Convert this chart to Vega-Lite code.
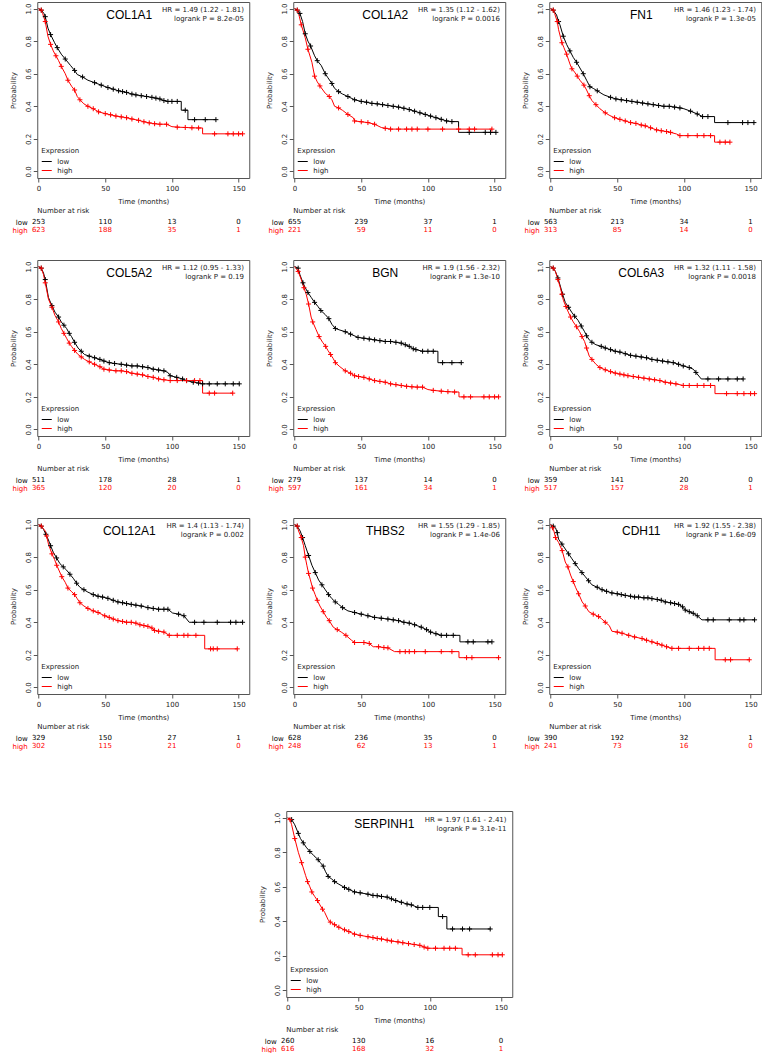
{
"$schema": "https://vega.github.io/schema/vega-lite/v6.json",
"padding": {"left": 8, "top": 1, "right": 0, "bottom": 0},
"background": "white",
"config": {
  "font": "DejaVu Sans",
  "view": {"stroke": "#555", "strokeWidth": 1},
  "axis": {"labelFont": "DejaVu Sans", "labelFontSize": 7, "titleFont": "DejaVu Sans", "titleFontSize": 7, "titleFontWeight": "normal", "grid": false, "domain": false, "tickColor": "#555", "tickSize": 4, "labelColor": "#222", "titleColor": "#222", "labelPadding": 2, "labelOverlap": false, "labelFlush": false},
  "legend": {"orient": "bottom-left", "offset": 4, "padding": 0, "symbolType": "stroke", "symbolSize": 100, "symbolStrokeWidth": 1, "labelFont": "DejaVu Sans", "titleFont": "DejaVu Sans", "labelFontSize": 7, "titleFontSize": 7, "titleFontWeight": "normal", "rowPadding": 0, "titlePadding": 2, "labelColor": "#222", "titleColor": "#222", "labelOffset": 5},
  "title": {"font": "DejaVu Sans", "fontSize": 7, "fontWeight": "normal", "anchor": "start", "frame": "group", "offset": 0, "color": "#222"}
},
"datasets": {
"info": [
{"gene":"COL1A1","hr":"HR = 1.49 (1.22 - 1.81)","lp":"logrank P = 8.2e-05"},
{"gene":"COL1A2","hr":"HR = 1.35 (1.12 - 1.62)","lp":"logrank P = 0.0016"},
{"gene":"FN1","hr":"HR = 1.46 (1.23 - 1.74)","lp":"logrank P = 1.3e-05"},
{"gene":"COL5A2","hr":"HR = 1.12 (0.95 - 1.33)","lp":"logrank P = 0.19"},
{"gene":"BGN","hr":"HR = 1.9 (1.56 - 2.32)","lp":"logrank P = 1.3e-10"},
{"gene":"COL6A3","hr":"HR = 1.32 (1.11 - 1.58)","lp":"logrank P = 0.0018"},
{"gene":"COL12A1","hr":"HR = 1.4 (1.13 - 1.74)","lp":"logrank P = 0.002"},
{"gene":"THBS2","hr":"HR = 1.55 (1.29 - 1.85)","lp":"logrank P = 1.4e-06"},
{"gene":"CDH11","hr":"HR = 1.92 (1.55 - 2.38)","lp":"logrank P = 1.6e-09"},
{"gene":"SERPINH1","hr":"HR = 1.97 (1.61 - 2.41)","lp":"logrank P = 3.1e-11"}
],
"risk": [
{"gene":"COL1A1","grp":"low","t":0,"n":253},{"gene":"COL1A1","grp":"low","t":50,"n":110},{"gene":"COL1A1","grp":"low","t":100,"n":13},{"gene":"COL1A1","grp":"low","t":150,"n":0},
{"gene":"COL1A1","grp":"high","t":0,"n":623},{"gene":"COL1A1","grp":"high","t":50,"n":188},{"gene":"COL1A1","grp":"high","t":100,"n":35},{"gene":"COL1A1","grp":"high","t":150,"n":1},
{"gene":"COL1A2","grp":"low","t":0,"n":655},{"gene":"COL1A2","grp":"low","t":50,"n":239},{"gene":"COL1A2","grp":"low","t":100,"n":37},{"gene":"COL1A2","grp":"low","t":150,"n":1},
{"gene":"COL1A2","grp":"high","t":0,"n":221},{"gene":"COL1A2","grp":"high","t":50,"n":59},{"gene":"COL1A2","grp":"high","t":100,"n":11},{"gene":"COL1A2","grp":"high","t":150,"n":0},
{"gene":"FN1","grp":"low","t":0,"n":563},{"gene":"FN1","grp":"low","t":50,"n":213},{"gene":"FN1","grp":"low","t":100,"n":34},{"gene":"FN1","grp":"low","t":150,"n":1},
{"gene":"FN1","grp":"high","t":0,"n":313},{"gene":"FN1","grp":"high","t":50,"n":85},{"gene":"FN1","grp":"high","t":100,"n":14},{"gene":"FN1","grp":"high","t":150,"n":0},
{"gene":"COL5A2","grp":"low","t":0,"n":511},{"gene":"COL5A2","grp":"low","t":50,"n":178},{"gene":"COL5A2","grp":"low","t":100,"n":28},{"gene":"COL5A2","grp":"low","t":150,"n":1},
{"gene":"COL5A2","grp":"high","t":0,"n":365},{"gene":"COL5A2","grp":"high","t":50,"n":120},{"gene":"COL5A2","grp":"high","t":100,"n":20},{"gene":"COL5A2","grp":"high","t":150,"n":0},
{"gene":"BGN","grp":"low","t":0,"n":279},{"gene":"BGN","grp":"low","t":50,"n":137},{"gene":"BGN","grp":"low","t":100,"n":14},{"gene":"BGN","grp":"low","t":150,"n":0},
{"gene":"BGN","grp":"high","t":0,"n":597},{"gene":"BGN","grp":"high","t":50,"n":161},{"gene":"BGN","grp":"high","t":100,"n":34},{"gene":"BGN","grp":"high","t":150,"n":1},
{"gene":"COL6A3","grp":"low","t":0,"n":359},{"gene":"COL6A3","grp":"low","t":50,"n":141},{"gene":"COL6A3","grp":"low","t":100,"n":20},{"gene":"COL6A3","grp":"low","t":150,"n":0},
{"gene":"COL6A3","grp":"high","t":0,"n":517},{"gene":"COL6A3","grp":"high","t":50,"n":157},{"gene":"COL6A3","grp":"high","t":100,"n":28},{"gene":"COL6A3","grp":"high","t":150,"n":1},
{"gene":"COL12A1","grp":"low","t":0,"n":329},{"gene":"COL12A1","grp":"low","t":50,"n":150},{"gene":"COL12A1","grp":"low","t":100,"n":27},{"gene":"COL12A1","grp":"low","t":150,"n":1},
{"gene":"COL12A1","grp":"high","t":0,"n":302},{"gene":"COL12A1","grp":"high","t":50,"n":115},{"gene":"COL12A1","grp":"high","t":100,"n":21},{"gene":"COL12A1","grp":"high","t":150,"n":0},
{"gene":"THBS2","grp":"low","t":0,"n":628},{"gene":"THBS2","grp":"low","t":50,"n":236},{"gene":"THBS2","grp":"low","t":100,"n":35},{"gene":"THBS2","grp":"low","t":150,"n":0},
{"gene":"THBS2","grp":"high","t":0,"n":248},{"gene":"THBS2","grp":"high","t":50,"n":62},{"gene":"THBS2","grp":"high","t":100,"n":13},{"gene":"THBS2","grp":"high","t":150,"n":1},
{"gene":"CDH11","grp":"low","t":0,"n":390},{"gene":"CDH11","grp":"low","t":50,"n":192},{"gene":"CDH11","grp":"low","t":100,"n":32},{"gene":"CDH11","grp":"low","t":150,"n":1},
{"gene":"CDH11","grp":"high","t":0,"n":241},{"gene":"CDH11","grp":"high","t":50,"n":73},{"gene":"CDH11","grp":"high","t":100,"n":16},{"gene":"CDH11","grp":"high","t":150,"n":0},
{"gene":"SERPINH1","grp":"low","t":0,"n":260},{"gene":"SERPINH1","grp":"low","t":50,"n":130},{"gene":"SERPINH1","grp":"low","t":100,"n":16},{"gene":"SERPINH1","grp":"low","t":150,"n":0},
{"gene":"SERPINH1","grp":"high","t":0,"n":616},{"gene":"SERPINH1","grp":"high","t":50,"n":168},{"gene":"SERPINH1","grp":"high","t":100,"n":32},{"gene":"SERPINH1","grp":"high","t":150,"n":1}
],
"COL1A1": [
{"grp":"low","t":0,"p":1,"cens":0},{"grp":"low","t":2,"p":0.99,"cens":1},{"grp":"low","t":4,"p":0.97,"cens":0},{"grp":"low","t":5,"p":0.95,"cens":1},{"grp":"low","t":7,"p":0.88,"cens":0},{"grp":"low","t":9,"p":0.84,"cens":1},{"grp":"low","t":12,"p":0.79,"cens":0},{"grp":"low","t":14,"p":0.76,"cens":1},{"grp":"low","t":17,"p":0.72,"cens":0},{"grp":"low","t":20,"p":0.69,"cens":1},{"grp":"low","t":24,"p":0.65,"cens":0},{"grp":"low","t":27,"p":0.62,"cens":1},{"grp":"low","t":29,"p":0.595,"cens":0},{"grp":"low","t":33,"p":0.58,"cens":1},{"grp":"low","t":37,"p":0.56,"cens":0},{"grp":"low","t":42,"p":0.545,"cens":1},{"grp":"low","t":47,"p":0.53,"cens":1},{"grp":"low","t":52,"p":0.515,"cens":1},{"grp":"low","t":56,"p":0.505,"cens":1},{"grp":"low","t":60,"p":0.495,"cens":1},{"grp":"low","t":63,"p":0.49,"cens":1},{"grp":"low","t":66,"p":0.485,"cens":1},{"grp":"low","t":70,"p":0.475,"cens":1},{"grp":"low","t":73,"p":0.47,"cens":1},{"grp":"low","t":77,"p":0.465,"cens":1},{"grp":"low","t":81,"p":0.46,"cens":1},{"grp":"low","t":85,"p":0.455,"cens":1},{"grp":"low","t":88,"p":0.45,"cens":1},{"grp":"low","t":91,"p":0.445,"cens":1},{"grp":"low","t":94,"p":0.435,"cens":1},{"grp":"low","t":97,"p":0.43,"cens":1},{"grp":"low","t":100,"p":0.43,"cens":1},{"grp":"low","t":104,"p":0.43,"cens":1},{"grp":"low","t":107,"p":0.43,"cens":0},{"grp":"low","t":107,"p":0.376,"cens":0},{"grp":"low","t":110,"p":0.376,"cens":1},{"grp":"low","t":112,"p":0.376,"cens":0},{"grp":"low","t":112,"p":0.318,"cens":0},{"grp":"low","t":117,"p":0.318,"cens":1},{"grp":"low","t":125,"p":0.318,"cens":1},{"grp":"low","t":133,"p":0.318,"cens":1},
{"grp":"high","t":0,"p":1,"cens":0},{"grp":"high","t":2,"p":0.99,"cens":1},{"grp":"high","t":3,"p":0.97,"cens":0},{"grp":"high","t":5,"p":0.92,"cens":1},{"grp":"high","t":7,"p":0.83,"cens":0},{"grp":"high","t":9,"p":0.78,"cens":1},{"grp":"high","t":11,"p":0.74,"cens":0},{"grp":"high","t":13,"p":0.71,"cens":1},{"grp":"high","t":15,"p":0.68,"cens":0},{"grp":"high","t":17,"p":0.645,"cens":1},{"grp":"high","t":20,"p":0.6,"cens":0},{"grp":"high","t":22,"p":0.56,"cens":1},{"grp":"high","t":25,"p":0.52,"cens":0},{"grp":"high","t":27,"p":0.5,"cens":1},{"grp":"high","t":29,"p":0.46,"cens":0},{"grp":"high","t":31,"p":0.44,"cens":1},{"grp":"high","t":34,"p":0.415,"cens":0},{"grp":"high","t":37,"p":0.4,"cens":1},{"grp":"high","t":41,"p":0.385,"cens":1},{"grp":"high","t":45,"p":0.366,"cens":1},{"grp":"high","t":50,"p":0.355,"cens":1},{"grp":"high","t":54,"p":0.348,"cens":1},{"grp":"high","t":58,"p":0.34,"cens":1},{"grp":"high","t":62,"p":0.335,"cens":1},{"grp":"high","t":66,"p":0.33,"cens":1},{"grp":"high","t":70,"p":0.322,"cens":1},{"grp":"high","t":75,"p":0.314,"cens":1},{"grp":"high","t":79,"p":0.305,"cens":1},{"grp":"high","t":83,"p":0.298,"cens":1},{"grp":"high","t":87,"p":0.293,"cens":1},{"grp":"high","t":91,"p":0.29,"cens":1},{"grp":"high","t":96,"p":0.29,"cens":1},{"grp":"high","t":100,"p":0.275,"cens":0},{"grp":"high","t":104,"p":0.272,"cens":1},{"grp":"high","t":110,"p":0.27,"cens":1},{"grp":"high","t":115,"p":0.268,"cens":1},{"grp":"high","t":120,"p":0.267,"cens":1},{"grp":"high","t":123,"p":0.267,"cens":0},{"grp":"high","t":123,"p":0.231,"cens":0},{"grp":"high","t":132,"p":0.231,"cens":1},{"grp":"high","t":142,"p":0.231,"cens":1},{"grp":"high","t":146,"p":0.231,"cens":1},{"grp":"high","t":150,"p":0.231,"cens":1},{"grp":"high","t":153,"p":0.231,"cens":1}
],
"COL1A2": [
{"grp":"low","t":0,"p":1,"cens":0},{"grp":"low","t":2,"p":0.99,"cens":1},{"grp":"low","t":4,"p":0.97,"cens":1},{"grp":"low","t":6,"p":0.92,"cens":0},{"grp":"low","t":8,"p":0.845,"cens":1},{"grp":"low","t":10,"p":0.8,"cens":0},{"grp":"low","t":12,"p":0.77,"cens":1},{"grp":"low","t":15,"p":0.71,"cens":0},{"grp":"low","t":17,"p":0.68,"cens":1},{"grp":"low","t":20,"p":0.65,"cens":0},{"grp":"low","t":23,"p":0.6,"cens":1},{"grp":"low","t":25,"p":0.575,"cens":0},{"grp":"low","t":28,"p":0.54,"cens":1},{"grp":"low","t":30,"p":0.51,"cens":0},{"grp":"low","t":33,"p":0.49,"cens":1},{"grp":"low","t":36,"p":0.475,"cens":0},{"grp":"low","t":40,"p":0.46,"cens":1},{"grp":"low","t":45,"p":0.44,"cens":1},{"grp":"low","t":50,"p":0.43,"cens":1},{"grp":"low","t":54,"p":0.425,"cens":1},{"grp":"low","t":58,"p":0.418,"cens":1},{"grp":"low","t":62,"p":0.415,"cens":1},{"grp":"low","t":66,"p":0.41,"cens":1},{"grp":"low","t":70,"p":0.405,"cens":1},{"grp":"low","t":74,"p":0.4,"cens":1},{"grp":"low","t":78,"p":0.395,"cens":1},{"grp":"low","t":82,"p":0.388,"cens":1},{"grp":"low","t":86,"p":0.38,"cens":1},{"grp":"low","t":90,"p":0.37,"cens":1},{"grp":"low","t":94,"p":0.36,"cens":1},{"grp":"low","t":98,"p":0.35,"cens":1},{"grp":"low","t":102,"p":0.34,"cens":1},{"grp":"low","t":106,"p":0.33,"cens":1},{"grp":"low","t":110,"p":0.32,"cens":1},{"grp":"low","t":114,"p":0.31,"cens":1},{"grp":"low","t":118,"p":0.306,"cens":1},{"grp":"low","t":123,"p":0.306,"cens":0},{"grp":"low","t":123,"p":0.24,"cens":0},{"grp":"low","t":131,"p":0.24,"cens":1},{"grp":"low","t":143,"p":0.24,"cens":1},{"grp":"low","t":147,"p":0.24,"cens":1},{"grp":"low","t":151,"p":0.24,"cens":1},
{"grp":"high","t":0,"p":1,"cens":0},{"grp":"high","t":2,"p":0.99,"cens":1},{"grp":"high","t":3,"p":0.97,"cens":0},{"grp":"high","t":5,"p":0.9,"cens":1},{"grp":"high","t":8,"p":0.82,"cens":0},{"grp":"high","t":10,"p":0.75,"cens":1},{"grp":"high","t":13,"p":0.67,"cens":0},{"grp":"high","t":15,"p":0.585,"cens":1},{"grp":"high","t":17,"p":0.55,"cens":0},{"grp":"high","t":19,"p":0.525,"cens":1},{"grp":"high","t":23,"p":0.48,"cens":0},{"grp":"high","t":26,"p":0.46,"cens":1},{"grp":"high","t":28,"p":0.44,"cens":0},{"grp":"high","t":30,"p":0.4,"cens":0},{"grp":"high","t":33,"p":0.39,"cens":1},{"grp":"high","t":36,"p":0.375,"cens":0},{"grp":"high","t":40,"p":0.35,"cens":1},{"grp":"high","t":44,"p":0.33,"cens":0},{"grp":"high","t":45,"p":0.31,"cens":1},{"grp":"high","t":50,"p":0.305,"cens":1},{"grp":"high","t":55,"p":0.3,"cens":1},{"grp":"high","t":60,"p":0.29,"cens":1},{"grp":"high","t":65,"p":0.27,"cens":0},{"grp":"high","t":68,"p":0.265,"cens":1},{"grp":"high","t":72,"p":0.26,"cens":1},{"grp":"high","t":78,"p":0.26,"cens":1},{"grp":"high","t":84,"p":0.26,"cens":1},{"grp":"high","t":88,"p":0.26,"cens":1},{"grp":"high","t":92,"p":0.26,"cens":1},{"grp":"high","t":100,"p":0.26,"cens":1},{"grp":"high","t":111,"p":0.26,"cens":1},{"grp":"high","t":123,"p":0.26,"cens":1},{"grp":"high","t":131,"p":0.26,"cens":1},{"grp":"high","t":135,"p":0.26,"cens":1},{"grp":"high","t":148,"p":0.26,"cens":1}
],
"FN1": [
{"grp":"low","t":0,"p":1,"cens":0},{"grp":"low","t":2,"p":0.99,"cens":1},{"grp":"low","t":4.5,"p":0.96,"cens":0},{"grp":"low","t":6,"p":0.92,"cens":1},{"grp":"low","t":7,"p":0.9,"cens":0},{"grp":"low","t":9.5,"p":0.83,"cens":1},{"grp":"low","t":12,"p":0.78,"cens":0},{"grp":"low","t":14.5,"p":0.74,"cens":1},{"grp":"low","t":17,"p":0.7,"cens":0},{"grp":"low","t":19.5,"p":0.67,"cens":1},{"grp":"low","t":22,"p":0.635,"cens":0},{"grp":"low","t":24.5,"p":0.6,"cens":1},{"grp":"low","t":27,"p":0.56,"cens":0},{"grp":"low","t":29.5,"p":0.52,"cens":1},{"grp":"low","t":32,"p":0.51,"cens":0},{"grp":"low","t":35,"p":0.495,"cens":1},{"grp":"low","t":40,"p":0.47,"cens":0},{"grp":"low","t":45,"p":0.455,"cens":1},{"grp":"low","t":49,"p":0.445,"cens":1},{"grp":"low","t":53,"p":0.44,"cens":1},{"grp":"low","t":57,"p":0.435,"cens":1},{"grp":"low","t":61,"p":0.43,"cens":1},{"grp":"low","t":65,"p":0.425,"cens":1},{"grp":"low","t":69,"p":0.42,"cens":1},{"grp":"low","t":73,"p":0.415,"cens":1},{"grp":"low","t":77,"p":0.41,"cens":1},{"grp":"low","t":81,"p":0.405,"cens":1},{"grp":"low","t":85,"p":0.4,"cens":1},{"grp":"low","t":89,"p":0.4,"cens":1},{"grp":"low","t":93,"p":0.395,"cens":1},{"grp":"low","t":97,"p":0.39,"cens":1},{"grp":"low","t":100,"p":0.385,"cens":0},{"grp":"low","t":105,"p":0.37,"cens":1},{"grp":"low","t":110,"p":0.353,"cens":1},{"grp":"low","t":114,"p":0.337,"cens":1},{"grp":"low","t":118,"p":0.337,"cens":1},{"grp":"low","t":123,"p":0.337,"cens":0},{"grp":"low","t":123,"p":0.3,"cens":0},{"grp":"low","t":133,"p":0.3,"cens":1},{"grp":"low","t":144,"p":0.3,"cens":1},{"grp":"low","t":148,"p":0.3,"cens":1},{"grp":"low","t":152.5,"p":0.3,"cens":1},
{"grp":"high","t":0,"p":1,"cens":0},{"grp":"high","t":2,"p":0.99,"cens":1},{"grp":"high","t":3,"p":0.97,"cens":0},{"grp":"high","t":5,"p":0.92,"cens":1},{"grp":"high","t":6,"p":0.87,"cens":0},{"grp":"high","t":8.5,"p":0.79,"cens":1},{"grp":"high","t":10,"p":0.76,"cens":0},{"grp":"high","t":12,"p":0.72,"cens":1},{"grp":"high","t":14.5,"p":0.66,"cens":0},{"grp":"high","t":16,"p":0.63,"cens":1},{"grp":"high","t":18,"p":0.61,"cens":0},{"grp":"high","t":20,"p":0.585,"cens":1},{"grp":"high","t":22,"p":0.56,"cens":0},{"grp":"high","t":25,"p":0.53,"cens":1},{"grp":"high","t":27,"p":0.5,"cens":0},{"grp":"high","t":29,"p":0.465,"cens":1},{"grp":"high","t":31,"p":0.435,"cens":0},{"grp":"high","t":34,"p":0.41,"cens":1},{"grp":"high","t":37,"p":0.385,"cens":0},{"grp":"high","t":41,"p":0.36,"cens":1},{"grp":"high","t":44.5,"p":0.343,"cens":0},{"grp":"high","t":48,"p":0.33,"cens":1},{"grp":"high","t":52,"p":0.32,"cens":1},{"grp":"high","t":56,"p":0.31,"cens":1},{"grp":"high","t":60,"p":0.3,"cens":1},{"grp":"high","t":64,"p":0.295,"cens":1},{"grp":"high","t":68,"p":0.285,"cens":1},{"grp":"high","t":71,"p":0.28,"cens":1},{"grp":"high","t":75,"p":0.268,"cens":1},{"grp":"high","t":79.5,"p":0.255,"cens":1},{"grp":"high","t":83,"p":0.25,"cens":1},{"grp":"high","t":87,"p":0.245,"cens":1},{"grp":"high","t":90,"p":0.24,"cens":1},{"grp":"high","t":94.5,"p":0.23,"cens":0},{"grp":"high","t":97,"p":0.22,"cens":1},{"grp":"high","t":103,"p":0.22,"cens":1},{"grp":"high","t":110,"p":0.22,"cens":1},{"grp":"high","t":115,"p":0.22,"cens":1},{"grp":"high","t":120,"p":0.22,"cens":1},{"grp":"high","t":123,"p":0.22,"cens":0},{"grp":"high","t":123,"p":0.18,"cens":0},{"grp":"high","t":127,"p":0.18,"cens":1},{"grp":"high","t":131,"p":0.18,"cens":1},{"grp":"high","t":134.5,"p":0.18,"cens":1}
],
"COL5A2": [
{"grp":"low","t":0,"p":1,"cens":0},{"grp":"low","t":2,"p":0.99,"cens":1},{"grp":"low","t":3.7,"p":0.96,"cens":0},{"grp":"low","t":5,"p":0.92,"cens":1},{"grp":"low","t":7.4,"p":0.81,"cens":0},{"grp":"low","t":10,"p":0.76,"cens":1},{"grp":"low","t":12.3,"p":0.72,"cens":0},{"grp":"low","t":15,"p":0.69,"cens":1},{"grp":"low","t":17,"p":0.66,"cens":0},{"grp":"low","t":19,"p":0.64,"cens":1},{"grp":"low","t":21,"p":0.62,"cens":0},{"grp":"low","t":23,"p":0.59,"cens":1},{"grp":"low","t":24.7,"p":0.57,"cens":0},{"grp":"low","t":27,"p":0.535,"cens":1},{"grp":"low","t":29.6,"p":0.5,"cens":0},{"grp":"low","t":32,"p":0.48,"cens":1},{"grp":"low","t":34.5,"p":0.46,"cens":0},{"grp":"low","t":38,"p":0.45,"cens":1},{"grp":"low","t":42,"p":0.44,"cens":1},{"grp":"low","t":46,"p":0.43,"cens":1},{"grp":"low","t":49,"p":0.42,"cens":1},{"grp":"low","t":53,"p":0.41,"cens":1},{"grp":"low","t":57,"p":0.405,"cens":1},{"grp":"low","t":62,"p":0.4,"cens":1},{"grp":"low","t":66,"p":0.395,"cens":1},{"grp":"low","t":70,"p":0.39,"cens":1},{"grp":"low","t":74,"p":0.39,"cens":1},{"grp":"low","t":78,"p":0.385,"cens":1},{"grp":"low","t":82,"p":0.38,"cens":1},{"grp":"low","t":86,"p":0.37,"cens":1},{"grp":"low","t":90,"p":0.365,"cens":1},{"grp":"low","t":94,"p":0.36,"cens":1},{"grp":"low","t":97,"p":0.35,"cens":0},{"grp":"low","t":98.7,"p":0.33,"cens":1},{"grp":"low","t":103.6,"p":0.32,"cens":1},{"grp":"low","t":108,"p":0.31,"cens":1},{"grp":"low","t":111,"p":0.3,"cens":1},{"grp":"low","t":116,"p":0.29,"cens":1},{"grp":"low","t":120,"p":0.285,"cens":1},{"grp":"low","t":123,"p":0.28,"cens":1},{"grp":"low","t":128,"p":0.28,"cens":1},{"grp":"low","t":134,"p":0.28,"cens":1},{"grp":"low","t":140,"p":0.28,"cens":1},{"grp":"low","t":146,"p":0.28,"cens":1},{"grp":"low","t":150.5,"p":0.28,"cens":1},
{"grp":"high","t":0,"p":1,"cens":0},{"grp":"high","t":2,"p":0.99,"cens":1},{"grp":"high","t":3.7,"p":0.95,"cens":0},{"grp":"high","t":5,"p":0.9,"cens":1},{"grp":"high","t":7.4,"p":0.8,"cens":0},{"grp":"high","t":10,"p":0.75,"cens":1},{"grp":"high","t":12.3,"p":0.7,"cens":0},{"grp":"high","t":15,"p":0.66,"cens":1},{"grp":"high","t":17,"p":0.62,"cens":0},{"grp":"high","t":19,"p":0.59,"cens":1},{"grp":"high","t":21,"p":0.56,"cens":0},{"grp":"high","t":23,"p":0.53,"cens":1},{"grp":"high","t":24.7,"p":0.51,"cens":0},{"grp":"high","t":27,"p":0.485,"cens":1},{"grp":"high","t":29.6,"p":0.46,"cens":0},{"grp":"high","t":32,"p":0.445,"cens":1},{"grp":"high","t":34.5,"p":0.43,"cens":0},{"grp":"high","t":38,"p":0.415,"cens":1},{"grp":"high","t":42,"p":0.4,"cens":1},{"grp":"high","t":46,"p":0.385,"cens":1},{"grp":"high","t":49,"p":0.37,"cens":1},{"grp":"high","t":53,"p":0.365,"cens":1},{"grp":"high","t":58,"p":0.36,"cens":1},{"grp":"high","t":62,"p":0.36,"cens":1},{"grp":"high","t":66,"p":0.355,"cens":1},{"grp":"high","t":70,"p":0.345,"cens":1},{"grp":"high","t":74,"p":0.34,"cens":1},{"grp":"high","t":78,"p":0.335,"cens":1},{"grp":"high","t":82,"p":0.325,"cens":1},{"grp":"high","t":86,"p":0.32,"cens":1},{"grp":"high","t":90,"p":0.31,"cens":1},{"grp":"high","t":94,"p":0.305,"cens":1},{"grp":"high","t":98.7,"p":0.3,"cens":1},{"grp":"high","t":104,"p":0.3,"cens":1},{"grp":"high","t":111,"p":0.3,"cens":1},{"grp":"high","t":117,"p":0.3,"cens":1},{"grp":"high","t":121,"p":0.3,"cens":1},{"grp":"high","t":123,"p":0.3,"cens":0},{"grp":"high","t":123,"p":0.223,"cens":0},{"grp":"high","t":128,"p":0.223,"cens":1},{"grp":"high","t":132,"p":0.223,"cens":1},{"grp":"high","t":145.6,"p":0.223,"cens":1}
],
"BGN": [
{"grp":"low","t":0,"p":1,"cens":0},{"grp":"low","t":2.7,"p":0.99,"cens":1},{"grp":"low","t":4,"p":0.95,"cens":0},{"grp":"low","t":6.3,"p":0.9,"cens":1},{"grp":"low","t":8,"p":0.87,"cens":0},{"grp":"low","t":10,"p":0.84,"cens":1},{"grp":"low","t":12.5,"p":0.81,"cens":0},{"grp":"low","t":15,"p":0.78,"cens":1},{"grp":"low","t":17.5,"p":0.755,"cens":0},{"grp":"low","t":19.7,"p":0.73,"cens":1},{"grp":"low","t":23,"p":0.705,"cens":0},{"grp":"low","t":25.7,"p":0.68,"cens":1},{"grp":"low","t":28,"p":0.645,"cens":0},{"grp":"low","t":30.6,"p":0.62,"cens":1},{"grp":"low","t":34,"p":0.61,"cens":0},{"grp":"low","t":38,"p":0.6,"cens":1},{"grp":"low","t":42,"p":0.585,"cens":1},{"grp":"low","t":47.6,"p":0.565,"cens":1},{"grp":"low","t":52,"p":0.56,"cens":1},{"grp":"low","t":56,"p":0.555,"cens":1},{"grp":"low","t":60,"p":0.55,"cens":1},{"grp":"low","t":64,"p":0.545,"cens":1},{"grp":"low","t":68,"p":0.54,"cens":1},{"grp":"low","t":72,"p":0.54,"cens":1},{"grp":"low","t":76,"p":0.535,"cens":1},{"grp":"low","t":80,"p":0.53,"cens":1},{"grp":"low","t":83,"p":0.52,"cens":1},{"grp":"low","t":86,"p":0.51,"cens":1},{"grp":"low","t":89,"p":0.495,"cens":1},{"grp":"low","t":91,"p":0.49,"cens":1},{"grp":"low","t":96,"p":0.48,"cens":1},{"grp":"low","t":100,"p":0.48,"cens":1},{"grp":"low","t":104,"p":0.48,"cens":1},{"grp":"low","t":107.5,"p":0.48,"cens":0},{"grp":"low","t":107.5,"p":0.41,"cens":0},{"grp":"low","t":111,"p":0.41,"cens":1},{"grp":"low","t":118,"p":0.41,"cens":1},{"grp":"low","t":125,"p":0.41,"cens":1},
{"grp":"high","t":0,"p":1,"cens":0},{"grp":"high","t":2.7,"p":0.97,"cens":1},{"grp":"high","t":5,"p":0.92,"cens":0},{"grp":"high","t":7,"p":0.87,"cens":1},{"grp":"high","t":8.7,"p":0.83,"cens":0},{"grp":"high","t":10.5,"p":0.77,"cens":1},{"grp":"high","t":12.4,"p":0.69,"cens":0},{"grp":"high","t":13.6,"p":0.66,"cens":1},{"grp":"high","t":16,"p":0.615,"cens":0},{"grp":"high","t":18.4,"p":0.57,"cens":1},{"grp":"high","t":21,"p":0.535,"cens":0},{"grp":"high","t":23.3,"p":0.51,"cens":1},{"grp":"high","t":25,"p":0.485,"cens":0},{"grp":"high","t":27,"p":0.46,"cens":1},{"grp":"high","t":29,"p":0.435,"cens":0},{"grp":"high","t":30.6,"p":0.41,"cens":1},{"grp":"high","t":34,"p":0.385,"cens":0},{"grp":"high","t":38,"p":0.36,"cens":1},{"grp":"high","t":42,"p":0.345,"cens":1},{"grp":"high","t":45,"p":0.33,"cens":1},{"grp":"high","t":48,"p":0.325,"cens":1},{"grp":"high","t":52,"p":0.32,"cens":1},{"grp":"high","t":56,"p":0.31,"cens":1},{"grp":"high","t":60,"p":0.3,"cens":1},{"grp":"high","t":64,"p":0.295,"cens":1},{"grp":"high","t":68,"p":0.29,"cens":1},{"grp":"high","t":72,"p":0.28,"cens":1},{"grp":"high","t":76,"p":0.275,"cens":1},{"grp":"high","t":80,"p":0.27,"cens":1},{"grp":"high","t":84,"p":0.265,"cens":1},{"grp":"high","t":88,"p":0.262,"cens":1},{"grp":"high","t":92,"p":0.26,"cens":1},{"grp":"high","t":96,"p":0.26,"cens":1},{"grp":"high","t":100,"p":0.245,"cens":0},{"grp":"high","t":104,"p":0.24,"cens":1},{"grp":"high","t":110,"p":0.235,"cens":1},{"grp":"high","t":115,"p":0.232,"cens":1},{"grp":"high","t":120,"p":0.23,"cens":1},{"grp":"high","t":123.3,"p":0.23,"cens":0},{"grp":"high","t":123.3,"p":0.2,"cens":0},{"grp":"high","t":127,"p":0.2,"cens":1},{"grp":"high","t":132,"p":0.2,"cens":1},{"grp":"high","t":142,"p":0.2,"cens":1},{"grp":"high","t":146,"p":0.2,"cens":1},{"grp":"high","t":150,"p":0.2,"cens":1},{"grp":"high","t":153,"p":0.2,"cens":1}
],
"COL6A3": [
{"grp":"low","t":0,"p":1,"cens":0},{"grp":"low","t":2,"p":0.99,"cens":1},{"grp":"low","t":3.6,"p":0.97,"cens":0},{"grp":"low","t":5.5,"p":0.93,"cens":1},{"grp":"low","t":7.3,"p":0.88,"cens":0},{"grp":"low","t":9,"p":0.83,"cens":1},{"grp":"low","t":11,"p":0.78,"cens":0},{"grp":"low","t":13.5,"p":0.75,"cens":1},{"grp":"low","t":15.8,"p":0.72,"cens":0},{"grp":"low","t":18,"p":0.695,"cens":1},{"grp":"low","t":20.6,"p":0.67,"cens":0},{"grp":"low","t":23,"p":0.635,"cens":1},{"grp":"low","t":25.5,"p":0.6,"cens":0},{"grp":"low","t":27,"p":0.575,"cens":1},{"grp":"low","t":29,"p":0.55,"cens":0},{"grp":"low","t":31,"p":0.535,"cens":1},{"grp":"low","t":34,"p":0.52,"cens":0},{"grp":"low","t":38,"p":0.51,"cens":1},{"grp":"low","t":41,"p":0.5,"cens":1},{"grp":"low","t":45,"p":0.49,"cens":1},{"grp":"low","t":48.5,"p":0.48,"cens":1},{"grp":"low","t":52,"p":0.475,"cens":1},{"grp":"low","t":56,"p":0.465,"cens":1},{"grp":"low","t":60,"p":0.455,"cens":1},{"grp":"low","t":64,"p":0.45,"cens":1},{"grp":"low","t":68,"p":0.445,"cens":1},{"grp":"low","t":72,"p":0.44,"cens":1},{"grp":"low","t":76,"p":0.43,"cens":1},{"grp":"low","t":80,"p":0.425,"cens":1},{"grp":"low","t":84,"p":0.42,"cens":1},{"grp":"low","t":88,"p":0.415,"cens":1},{"grp":"low","t":92,"p":0.41,"cens":1},{"grp":"low","t":96,"p":0.4,"cens":1},{"grp":"low","t":99.5,"p":0.39,"cens":1},{"grp":"low","t":104,"p":0.38,"cens":1},{"grp":"low","t":107,"p":0.37,"cens":0},{"grp":"low","t":109,"p":0.35,"cens":1},{"grp":"low","t":113,"p":0.31,"cens":0},{"grp":"low","t":118,"p":0.31,"cens":1},{"grp":"low","t":126,"p":0.31,"cens":1},{"grp":"low","t":133,"p":0.31,"cens":1},{"grp":"low","t":140,"p":0.31,"cens":1},{"grp":"low","t":144.4,"p":0.31,"cens":1},
{"grp":"high","t":0,"p":1,"cens":0},{"grp":"high","t":2,"p":0.99,"cens":1},{"grp":"high","t":3.6,"p":0.97,"cens":0},{"grp":"high","t":5.5,"p":0.92,"cens":1},{"grp":"high","t":7.3,"p":0.87,"cens":0},{"grp":"high","t":8.5,"p":0.83,"cens":1},{"grp":"high","t":9.7,"p":0.79,"cens":0},{"grp":"high","t":11.5,"p":0.755,"cens":1},{"grp":"high","t":13.3,"p":0.72,"cens":0},{"grp":"high","t":15,"p":0.69,"cens":1},{"grp":"high","t":17,"p":0.66,"cens":0},{"grp":"high","t":19.5,"p":0.63,"cens":1},{"grp":"high","t":21.8,"p":0.6,"cens":0},{"grp":"high","t":23.5,"p":0.57,"cens":1},{"grp":"high","t":25.5,"p":0.54,"cens":0},{"grp":"high","t":27,"p":0.5,"cens":1},{"grp":"high","t":29,"p":0.45,"cens":0},{"grp":"high","t":31,"p":0.43,"cens":1},{"grp":"high","t":34,"p":0.4,"cens":0},{"grp":"high","t":37,"p":0.38,"cens":1},{"grp":"high","t":41,"p":0.366,"cens":1},{"grp":"high","t":45,"p":0.355,"cens":1},{"grp":"high","t":48.5,"p":0.346,"cens":1},{"grp":"high","t":52,"p":0.34,"cens":1},{"grp":"high","t":55,"p":0.335,"cens":1},{"grp":"high","t":58,"p":0.33,"cens":1},{"grp":"high","t":62,"p":0.325,"cens":1},{"grp":"high","t":66,"p":0.32,"cens":1},{"grp":"high","t":70,"p":0.315,"cens":1},{"grp":"high","t":74,"p":0.31,"cens":1},{"grp":"high","t":78,"p":0.305,"cens":1},{"grp":"high","t":82,"p":0.3,"cens":1},{"grp":"high","t":86,"p":0.29,"cens":1},{"grp":"high","t":90,"p":0.285,"cens":1},{"grp":"high","t":94,"p":0.28,"cens":1},{"grp":"high","t":99.5,"p":0.27,"cens":1},{"grp":"high","t":104,"p":0.27,"cens":1},{"grp":"high","t":110,"p":0.27,"cens":1},{"grp":"high","t":115,"p":0.27,"cens":1},{"grp":"high","t":120,"p":0.27,"cens":1},{"grp":"high","t":123.3,"p":0.27,"cens":0},{"grp":"high","t":123.3,"p":0.22,"cens":0},{"grp":"high","t":132,"p":0.22,"cens":1},{"grp":"high","t":140,"p":0.22,"cens":1},{"grp":"high","t":145,"p":0.22,"cens":1},{"grp":"high","t":150,"p":0.22,"cens":1},{"grp":"high","t":153,"p":0.22,"cens":1}
],
"COL12A1": [
{"grp":"low","t":0,"p":1,"cens":0},{"grp":"low","t":2,"p":0.99,"cens":1},{"grp":"low","t":3.7,"p":0.97,"cens":0},{"grp":"low","t":5.5,"p":0.94,"cens":1},{"grp":"low","t":7.4,"p":0.905,"cens":0},{"grp":"low","t":9,"p":0.87,"cens":1},{"grp":"low","t":11,"p":0.83,"cens":0},{"grp":"low","t":13.5,"p":0.795,"cens":1},{"grp":"low","t":16,"p":0.76,"cens":0},{"grp":"low","t":18.5,"p":0.74,"cens":1},{"grp":"low","t":21,"p":0.72,"cens":0},{"grp":"low","t":23.5,"p":0.695,"cens":1},{"grp":"low","t":26,"p":0.67,"cens":0},{"grp":"low","t":28.5,"p":0.64,"cens":1},{"grp":"low","t":31,"p":0.615,"cens":0},{"grp":"low","t":34,"p":0.6,"cens":1},{"grp":"low","t":37,"p":0.585,"cens":0},{"grp":"low","t":41,"p":0.57,"cens":1},{"grp":"low","t":44.6,"p":0.56,"cens":1},{"grp":"low","t":48,"p":0.555,"cens":1},{"grp":"low","t":52,"p":0.547,"cens":1},{"grp":"low","t":56,"p":0.535,"cens":1},{"grp":"low","t":59.5,"p":0.525,"cens":1},{"grp":"low","t":63,"p":0.52,"cens":1},{"grp":"low","t":66,"p":0.515,"cens":1},{"grp":"low","t":69.5,"p":0.51,"cens":1},{"grp":"low","t":73,"p":0.505,"cens":1},{"grp":"low","t":77,"p":0.5,"cens":1},{"grp":"low","t":82,"p":0.49,"cens":1},{"grp":"low","t":86,"p":0.485,"cens":1},{"grp":"low","t":90,"p":0.48,"cens":1},{"grp":"low","t":94,"p":0.48,"cens":1},{"grp":"low","t":97,"p":0.48,"cens":1},{"grp":"low","t":100.5,"p":0.457,"cens":0},{"grp":"low","t":105,"p":0.45,"cens":1},{"grp":"low","t":109,"p":0.44,"cens":1},{"grp":"low","t":113,"p":0.4,"cens":0},{"grp":"low","t":117,"p":0.4,"cens":1},{"grp":"low","t":124,"p":0.4,"cens":1},{"grp":"low","t":134,"p":0.4,"cens":1},{"grp":"low","t":144,"p":0.4,"cens":1},{"grp":"low","t":148,"p":0.4,"cens":1},{"grp":"low","t":153,"p":0.4,"cens":1},
{"grp":"high","t":0,"p":1,"cens":0},{"grp":"high","t":2,"p":0.99,"cens":1},{"grp":"high","t":5,"p":0.96,"cens":0},{"grp":"high","t":6,"p":0.93,"cens":1},{"grp":"high","t":7.4,"p":0.88,"cens":0},{"grp":"high","t":10,"p":0.82,"cens":1},{"grp":"high","t":12,"p":0.785,"cens":0},{"grp":"high","t":13.6,"p":0.75,"cens":1},{"grp":"high","t":15.5,"p":0.715,"cens":0},{"grp":"high","t":17.4,"p":0.68,"cens":1},{"grp":"high","t":20,"p":0.645,"cens":0},{"grp":"high","t":22,"p":0.61,"cens":1},{"grp":"high","t":24.5,"p":0.59,"cens":0},{"grp":"high","t":27,"p":0.57,"cens":1},{"grp":"high","t":29,"p":0.545,"cens":0},{"grp":"high","t":31,"p":0.52,"cens":1},{"grp":"high","t":34,"p":0.5,"cens":0},{"grp":"high","t":37,"p":0.485,"cens":1},{"grp":"high","t":41,"p":0.47,"cens":1},{"grp":"high","t":44.6,"p":0.46,"cens":1},{"grp":"high","t":49.6,"p":0.44,"cens":1},{"grp":"high","t":53,"p":0.43,"cens":1},{"grp":"high","t":56,"p":0.42,"cens":1},{"grp":"high","t":59.5,"p":0.41,"cens":1},{"grp":"high","t":63,"p":0.405,"cens":1},{"grp":"high","t":66,"p":0.4,"cens":1},{"grp":"high","t":69.5,"p":0.4,"cens":1},{"grp":"high","t":73,"p":0.395,"cens":1},{"grp":"high","t":76,"p":0.385,"cens":1},{"grp":"high","t":79,"p":0.38,"cens":1},{"grp":"high","t":82,"p":0.375,"cens":1},{"grp":"high","t":85,"p":0.365,"cens":1},{"grp":"high","t":87,"p":0.35,"cens":1},{"grp":"high","t":90,"p":0.345,"cens":1},{"grp":"high","t":94,"p":0.34,"cens":1},{"grp":"high","t":98,"p":0.32,"cens":1},{"grp":"high","t":104,"p":0.32,"cens":1},{"grp":"high","t":109,"p":0.32,"cens":1},{"grp":"high","t":112,"p":0.32,"cens":1},{"grp":"high","t":118,"p":0.32,"cens":1},{"grp":"high","t":124.6,"p":0.32,"cens":0},{"grp":"high","t":124.6,"p":0.237,"cens":0},{"grp":"high","t":129,"p":0.237,"cens":1},{"grp":"high","t":131,"p":0.237,"cens":1},{"grp":"high","t":134,"p":0.237,"cens":1},{"grp":"high","t":149,"p":0.237,"cens":1}
],
"THBS2": [
{"grp":"low","t":0,"p":1,"cens":0},{"grp":"low","t":2,"p":0.99,"cens":1},{"grp":"low","t":4.2,"p":0.96,"cens":0},{"grp":"low","t":6,"p":0.92,"cens":1},{"grp":"low","t":8,"p":0.87,"cens":0},{"grp":"low","t":10.5,"p":0.81,"cens":1},{"grp":"low","t":13,"p":0.75,"cens":0},{"grp":"low","t":15.5,"p":0.705,"cens":1},{"grp":"low","t":18,"p":0.66,"cens":0},{"grp":"low","t":20.5,"p":0.63,"cens":1},{"grp":"low","t":23,"p":0.6,"cens":0},{"grp":"low","t":25.5,"p":0.57,"cens":1},{"grp":"low","t":28,"p":0.545,"cens":0},{"grp":"low","t":30.5,"p":0.525,"cens":1},{"grp":"low","t":33,"p":0.51,"cens":0},{"grp":"low","t":36,"p":0.49,"cens":1},{"grp":"low","t":40,"p":0.47,"cens":0},{"grp":"low","t":45,"p":0.46,"cens":1},{"grp":"low","t":50,"p":0.45,"cens":1},{"grp":"low","t":55,"p":0.44,"cens":1},{"grp":"low","t":60,"p":0.43,"cens":1},{"grp":"low","t":65,"p":0.425,"cens":1},{"grp":"low","t":70,"p":0.42,"cens":1},{"grp":"low","t":74,"p":0.415,"cens":1},{"grp":"low","t":78,"p":0.41,"cens":1},{"grp":"low","t":82,"p":0.4,"cens":1},{"grp":"low","t":86,"p":0.395,"cens":1},{"grp":"low","t":90,"p":0.385,"cens":1},{"grp":"low","t":95,"p":0.37,"cens":1},{"grp":"low","t":99,"p":0.355,"cens":1},{"grp":"low","t":102,"p":0.34,"cens":1},{"grp":"low","t":106,"p":0.33,"cens":1},{"grp":"low","t":110,"p":0.32,"cens":1},{"grp":"low","t":114,"p":0.32,"cens":1},{"grp":"low","t":119,"p":0.32,"cens":1},{"grp":"low","t":124,"p":0.32,"cens":0},{"grp":"low","t":124,"p":0.28,"cens":0},{"grp":"low","t":130,"p":0.28,"cens":1},{"grp":"low","t":134,"p":0.28,"cens":1},{"grp":"low","t":145,"p":0.28,"cens":1},{"grp":"low","t":148,"p":0.28,"cens":1},
{"grp":"high","t":0,"p":1,"cens":0},{"grp":"high","t":2,"p":0.99,"cens":1},{"grp":"high","t":3,"p":0.96,"cens":0},{"grp":"high","t":5,"p":0.92,"cens":1},{"grp":"high","t":6.7,"p":0.87,"cens":0},{"grp":"high","t":8,"p":0.8,"cens":1},{"grp":"high","t":9.2,"p":0.75,"cens":0},{"grp":"high","t":10.5,"p":0.7,"cens":1},{"grp":"high","t":11.7,"p":0.665,"cens":0},{"grp":"high","t":13.5,"p":0.61,"cens":1},{"grp":"high","t":15.4,"p":0.57,"cens":0},{"grp":"high","t":17,"p":0.535,"cens":1},{"grp":"high","t":19,"p":0.5,"cens":0},{"grp":"high","t":21.5,"p":0.465,"cens":1},{"grp":"high","t":24,"p":0.43,"cens":0},{"grp":"high","t":26,"p":0.41,"cens":1},{"grp":"high","t":29,"p":0.37,"cens":0},{"grp":"high","t":32,"p":0.355,"cens":1},{"grp":"high","t":35,"p":0.34,"cens":0},{"grp":"high","t":38.5,"p":0.32,"cens":1},{"grp":"high","t":42.7,"p":0.29,"cens":0},{"grp":"high","t":45,"p":0.276,"cens":1},{"grp":"high","t":52,"p":0.276,"cens":1},{"grp":"high","t":56,"p":0.27,"cens":1},{"grp":"high","t":59,"p":0.25,"cens":0},{"grp":"high","t":63,"p":0.25,"cens":1},{"grp":"high","t":67,"p":0.245,"cens":1},{"grp":"high","t":70,"p":0.243,"cens":1},{"grp":"high","t":75,"p":0.22,"cens":0},{"grp":"high","t":79,"p":0.22,"cens":1},{"grp":"high","t":83,"p":0.22,"cens":1},{"grp":"high","t":86,"p":0.22,"cens":1},{"grp":"high","t":90,"p":0.22,"cens":1},{"grp":"high","t":98,"p":0.22,"cens":1},{"grp":"high","t":110,"p":0.22,"cens":1},{"grp":"high","t":118,"p":0.22,"cens":1},{"grp":"high","t":123.3,"p":0.22,"cens":0},{"grp":"high","t":123.3,"p":0.183,"cens":0},{"grp":"high","t":129,"p":0.183,"cens":1},{"grp":"high","t":133,"p":0.183,"cens":1},{"grp":"high","t":153,"p":0.183,"cens":1}
],
"CDH11": [
{"grp":"low","t":0,"p":1,"cens":0},{"grp":"low","t":2,"p":0.99,"cens":1},{"grp":"low","t":3.7,"p":0.98,"cens":0},{"grp":"low","t":5,"p":0.95,"cens":1},{"grp":"low","t":6,"p":0.91,"cens":0},{"grp":"low","t":8.5,"p":0.88,"cens":1},{"grp":"low","t":11,"p":0.85,"cens":0},{"grp":"low","t":13.5,"p":0.82,"cens":1},{"grp":"low","t":16,"p":0.79,"cens":0},{"grp":"low","t":18.5,"p":0.76,"cens":1},{"grp":"low","t":21,"p":0.73,"cens":0},{"grp":"low","t":23.5,"p":0.705,"cens":1},{"grp":"low","t":26,"p":0.68,"cens":0},{"grp":"low","t":28.5,"p":0.655,"cens":1},{"grp":"low","t":31,"p":0.63,"cens":0},{"grp":"low","t":35,"p":0.615,"cens":1},{"grp":"low","t":38.6,"p":0.6,"cens":1},{"grp":"low","t":42,"p":0.59,"cens":1},{"grp":"low","t":46,"p":0.58,"cens":1},{"grp":"low","t":50,"p":0.575,"cens":1},{"grp":"low","t":53,"p":0.57,"cens":1},{"grp":"low","t":56,"p":0.565,"cens":1},{"grp":"low","t":60,"p":0.56,"cens":1},{"grp":"low","t":63,"p":0.555,"cens":1},{"grp":"low","t":66,"p":0.555,"cens":1},{"grp":"low","t":70,"p":0.55,"cens":1},{"grp":"low","t":73,"p":0.55,"cens":1},{"grp":"low","t":76,"p":0.545,"cens":1},{"grp":"low","t":80,"p":0.54,"cens":1},{"grp":"low","t":83,"p":0.535,"cens":1},{"grp":"low","t":86,"p":0.525,"cens":1},{"grp":"low","t":90,"p":0.52,"cens":1},{"grp":"low","t":93,"p":0.515,"cens":1},{"grp":"low","t":96,"p":0.51,"cens":1},{"grp":"low","t":99,"p":0.495,"cens":1},{"grp":"low","t":101,"p":0.475,"cens":1},{"grp":"low","t":104,"p":0.465,"cens":1},{"grp":"low","t":107,"p":0.455,"cens":1},{"grp":"low","t":110,"p":0.44,"cens":1},{"grp":"low","t":113.5,"p":0.415,"cens":0},{"grp":"low","t":118,"p":0.415,"cens":1},{"grp":"low","t":122,"p":0.415,"cens":1},{"grp":"low","t":134,"p":0.415,"cens":1},{"grp":"low","t":142,"p":0.415,"cens":1},{"grp":"low","t":145,"p":0.415,"cens":1},{"grp":"low","t":153,"p":0.415,"cens":1},
{"grp":"high","t":0,"p":1,"cens":0},{"grp":"high","t":1.5,"p":0.98,"cens":1},{"grp":"high","t":2.5,"p":0.96,"cens":0},{"grp":"high","t":3.7,"p":0.92,"cens":1},{"grp":"high","t":6,"p":0.89,"cens":0},{"grp":"high","t":8.7,"p":0.84,"cens":1},{"grp":"high","t":11,"p":0.77,"cens":0},{"grp":"high","t":13,"p":0.74,"cens":1},{"grp":"high","t":15,"p":0.69,"cens":0},{"grp":"high","t":17,"p":0.65,"cens":1},{"grp":"high","t":18.7,"p":0.615,"cens":0},{"grp":"high","t":21,"p":0.575,"cens":1},{"grp":"high","t":23.7,"p":0.525,"cens":0},{"grp":"high","t":26,"p":0.5,"cens":1},{"grp":"high","t":28.7,"p":0.465,"cens":0},{"grp":"high","t":32,"p":0.45,"cens":1},{"grp":"high","t":36,"p":0.435,"cens":1},{"grp":"high","t":38.5,"p":0.42,"cens":0},{"grp":"high","t":41,"p":0.4,"cens":1},{"grp":"high","t":44,"p":0.38,"cens":0},{"grp":"high","t":46,"p":0.345,"cens":0},{"grp":"high","t":50,"p":0.34,"cens":1},{"grp":"high","t":53.6,"p":0.333,"cens":1},{"grp":"high","t":58.6,"p":0.32,"cens":1},{"grp":"high","t":63,"p":0.31,"cens":1},{"grp":"high","t":68.6,"p":0.3,"cens":1},{"grp":"high","t":72,"p":0.29,"cens":1},{"grp":"high","t":76,"p":0.28,"cens":1},{"grp":"high","t":80,"p":0.27,"cens":1},{"grp":"high","t":83.5,"p":0.26,"cens":1},{"grp":"high","t":87,"p":0.25,"cens":1},{"grp":"high","t":91,"p":0.24,"cens":1},{"grp":"high","t":96,"p":0.24,"cens":1},{"grp":"high","t":104,"p":0.24,"cens":1},{"grp":"high","t":111,"p":0.24,"cens":1},{"grp":"high","t":115,"p":0.24,"cens":1},{"grp":"high","t":119,"p":0.24,"cens":1},{"grp":"high","t":123.4,"p":0.24,"cens":0},{"grp":"high","t":123.4,"p":0.17,"cens":0},{"grp":"high","t":131,"p":0.17,"cens":1},{"grp":"high","t":135,"p":0.17,"cens":1},{"grp":"high","t":149,"p":0.17,"cens":1}
],
"SERPINH1": [
{"grp":"low","t":0,"p":1,"cens":0},{"grp":"low","t":2.8,"p":0.99,"cens":1},{"grp":"low","t":5,"p":0.96,"cens":0},{"grp":"low","t":7.5,"p":0.91,"cens":1},{"grp":"low","t":9,"p":0.88,"cens":0},{"grp":"low","t":11,"p":0.855,"cens":1},{"grp":"low","t":13,"p":0.83,"cens":0},{"grp":"low","t":15.6,"p":0.805,"cens":1},{"grp":"low","t":18.5,"p":0.78,"cens":0},{"grp":"low","t":21.5,"p":0.757,"cens":1},{"grp":"low","t":23,"p":0.74,"cens":0},{"grp":"low","t":25,"p":0.72,"cens":1},{"grp":"low","t":26.5,"p":0.69,"cens":0},{"grp":"low","t":28.5,"p":0.66,"cens":1},{"grp":"low","t":31,"p":0.645,"cens":0},{"grp":"low","t":33,"p":0.63,"cens":1},{"grp":"low","t":36,"p":0.615,"cens":0},{"grp":"low","t":40,"p":0.596,"cens":1},{"grp":"low","t":43,"p":0.585,"cens":1},{"grp":"low","t":47,"p":0.57,"cens":1},{"grp":"low","t":51,"p":0.565,"cens":1},{"grp":"low","t":56.5,"p":0.557,"cens":1},{"grp":"low","t":60,"p":0.55,"cens":1},{"grp":"low","t":63,"p":0.548,"cens":1},{"grp":"low","t":66,"p":0.544,"cens":1},{"grp":"low","t":70,"p":0.54,"cens":1},{"grp":"low","t":73,"p":0.53,"cens":1},{"grp":"low","t":76,"p":0.52,"cens":1},{"grp":"low","t":80,"p":0.51,"cens":1},{"grp":"low","t":84,"p":0.5,"cens":1},{"grp":"low","t":87,"p":0.495,"cens":1},{"grp":"low","t":91.6,"p":0.48,"cens":1},{"grp":"low","t":95,"p":0.48,"cens":1},{"grp":"low","t":100,"p":0.48,"cens":1},{"grp":"low","t":106,"p":0.48,"cens":0},{"grp":"low","t":106,"p":0.427,"cens":0},{"grp":"low","t":109,"p":0.427,"cens":1},{"grp":"low","t":112,"p":0.427,"cens":0},{"grp":"low","t":112,"p":0.355,"cens":0},{"grp":"low","t":116,"p":0.355,"cens":1},{"grp":"low","t":123,"p":0.355,"cens":1},{"grp":"low","t":128,"p":0.355,"cens":1},{"grp":"low","t":142.5,"p":0.355,"cens":1},
{"grp":"high","t":0,"p":1,"cens":0},{"grp":"high","t":1.6,"p":0.99,"cens":1},{"grp":"high","t":2.8,"p":0.96,"cens":0},{"grp":"high","t":5,"p":0.88,"cens":1},{"grp":"high","t":7.5,"p":0.8,"cens":0},{"grp":"high","t":9.8,"p":0.74,"cens":1},{"grp":"high","t":12.6,"p":0.666,"cens":0},{"grp":"high","t":14,"p":0.63,"cens":1},{"grp":"high","t":15.6,"p":0.6,"cens":0},{"grp":"high","t":17,"p":0.57,"cens":1},{"grp":"high","t":19,"p":0.544,"cens":0},{"grp":"high","t":21,"p":0.52,"cens":1},{"grp":"high","t":22.7,"p":0.495,"cens":0},{"grp":"high","t":24.5,"p":0.47,"cens":1},{"grp":"high","t":26,"p":0.452,"cens":0},{"grp":"high","t":28.5,"p":0.408,"cens":0},{"grp":"high","t":30,"p":0.395,"cens":1},{"grp":"high","t":33,"p":0.38,"cens":1},{"grp":"high","t":36,"p":0.365,"cens":1},{"grp":"high","t":40,"p":0.35,"cens":1},{"grp":"high","t":43,"p":0.34,"cens":1},{"grp":"high","t":47,"p":0.325,"cens":1},{"grp":"high","t":51,"p":0.318,"cens":1},{"grp":"high","t":56.5,"p":0.31,"cens":1},{"grp":"high","t":60,"p":0.305,"cens":1},{"grp":"high","t":63,"p":0.3,"cens":1},{"grp":"high","t":66,"p":0.297,"cens":1},{"grp":"high","t":70,"p":0.29,"cens":1},{"grp":"high","t":73,"p":0.285,"cens":1},{"grp":"high","t":77.6,"p":0.28,"cens":1},{"grp":"high","t":81,"p":0.275,"cens":1},{"grp":"high","t":85,"p":0.27,"cens":1},{"grp":"high","t":89,"p":0.265,"cens":1},{"grp":"high","t":93,"p":0.26,"cens":1},{"grp":"high","t":96,"p":0.25,"cens":1},{"grp":"high","t":98.6,"p":0.243,"cens":1},{"grp":"high","t":104,"p":0.243,"cens":1},{"grp":"high","t":110,"p":0.243,"cens":1},{"grp":"high","t":114,"p":0.243,"cens":1},{"grp":"high","t":118,"p":0.243,"cens":1},{"grp":"high","t":122.7,"p":0.243,"cens":0},{"grp":"high","t":122.7,"p":0.205,"cens":0},{"grp":"high","t":127,"p":0.205,"cens":1},{"grp":"high","t":132,"p":0.205,"cens":1},{"grp":"high","t":144,"p":0.205,"cens":1},{"grp":"high","t":148,"p":0.205,"cens":1},{"grp":"high","t":151,"p":0.205,"cens":1}
]
},
"resolve": {"scale": {"color": "independent"}, "legend": {"color": "independent"}},
"center": true,
"spacing": 60,
"vconcat": [
{"spacing": 25, "resolve": {"scale": {"color": "independent"}, "legend": {"color": "independent"}}, "vconcat": [
{"spacing": 14, "resolve": {"scale": {"color": "independent"}, "legend": {"color": "independent"}}, "hconcat": [
{"spacing":2,"resolve":{"scale":{"color":"independent"},"legend":{"color":"independent"}},"vconcat":[
{"width":212,"height":176,"layer":[
{"data":{"name":"COL1A1"},"mark":{"type":"line","strokeWidth":1},"encoding":{"x":{"field":"t","type":"quantitative","scale":{"domain":[-1,158],"nice":false,"zero":false},"axis":{"values":[0,50,100,150],"tickCount":6,"title":"Time (months)","titlePadding":6,"labelOverlap":false}},"y":{"field":"p","type":"quantitative","scale":{"domain":[-0.04,1.04],"nice":false,"zero":false},"axis":{"values":[0,0.2,0.4,0.6,0.8,1],"tickCount":10,"format":".1f","title":"Probability","labelAngle":-90,"labelAlign":"center","labelBaseline":"bottom","titlePadding":8,"labelOverlap":false}},"color":{"field":"grp","type":"nominal","scale":{"domain":["low","high"],"range":["black","red"]},"legend":{"title":"Expression"}},"order":{"value":null}}},
{"data":{"name":"COL1A1"},"transform":[{"filter":"datum.cens == 1"}],"mark":{"type":"point","shape":"M-1,0H1M0,-1V1","filled":false,"size":25,"strokeWidth":1,"opacity":1},"encoding":{"x":{"field":"t","type":"quantitative"},"y":{"field":"p","type":"quantitative"},"color":{"field":"grp","type":"nominal","legend":{"title":"Expression"}}}},
{"data":{"name":"info"},"transform":[{"filter":"datum.gene == 'COL1A1'"}],"mark":{"type":"text","font":"Liberation Sans","fontSize":12,"color":"black"},"encoding":{"x":{"datum":68},"y":{"datum":0.962},"text":{"field":"gene"}}},
{"data":{"name":"info"},"transform":[{"filter":"datum.gene == 'COL1A1'"}],"mark":{"type":"text","fontSize":7,"align":"right","color":"#222"},"encoding":{"x":{"datum":154},"y":{"datum":0.99},"text":{"field":"hr"}}},
{"data":{"name":"info"},"transform":[{"filter":"datum.gene == 'COL1A1'"}],"mark":{"type":"text","fontSize":7,"align":"right","color":"#222"},"encoding":{"x":{"datum":154},"y":{"datum":0.936},"text":{"field":"lp"}}}
]},
{"width":212,"height":16,"view":{"stroke":null},"title":"Number at risk","data":{"name":"risk"},"transform":[{"filter":"datum.gene == 'COL1A1'"}],"encoding":{"x":{"field":"t","type":"quantitative","scale":{"domain":[-1,158],"nice":false,"zero":false},"axis":null},"y":{"field":"grp","type":"nominal","scale":{"domain":["low","high"]},"axis":{"title":null,"ticks":false,"tickSize":0,"domain":false,"labelPadding":10,"labelColor":{"condition":{"test":"datum.value == 'high'","value":"red"},"value":"black"}}}},"layer":[
{"transform":[{"filter":"datum.grp == 'low'"}],"mark":{"type":"text","fontSize":7,"color":"black"},"encoding":{"text":{"field":"n"}}},
{"transform":[{"filter":"datum.grp == 'high'"}],"mark":{"type":"text","fontSize":7,"color":"red"},"encoding":{"text":{"field":"n"}}}
]}
]},
{"spacing":2,"resolve":{"scale":{"color":"independent"},"legend":{"color":"independent"}},"vconcat":[
{"width":212,"height":176,"layer":[
{"data":{"name":"COL1A2"},"mark":{"type":"line","strokeWidth":1},"encoding":{"x":{"field":"t","type":"quantitative","scale":{"domain":[-1,158],"nice":false,"zero":false},"axis":{"values":[0,50,100,150],"tickCount":6,"title":"Time (months)","titlePadding":6,"labelOverlap":false}},"y":{"field":"p","type":"quantitative","scale":{"domain":[-0.04,1.04],"nice":false,"zero":false},"axis":{"values":[0,0.2,0.4,0.6,0.8,1],"tickCount":10,"format":".1f","title":"Probability","labelAngle":-90,"labelAlign":"center","labelBaseline":"bottom","titlePadding":8,"labelOverlap":false}},"color":{"field":"grp","type":"nominal","scale":{"domain":["low","high"],"range":["black","red"]},"legend":{"title":"Expression"}},"order":{"value":null}}},
{"data":{"name":"COL1A2"},"transform":[{"filter":"datum.cens == 1"}],"mark":{"type":"point","shape":"M-1,0H1M0,-1V1","filled":false,"size":25,"strokeWidth":1,"opacity":1},"encoding":{"x":{"field":"t","type":"quantitative"},"y":{"field":"p","type":"quantitative"},"color":{"field":"grp","type":"nominal","legend":{"title":"Expression"}}}},
{"data":{"name":"info"},"transform":[{"filter":"datum.gene == 'COL1A2'"}],"mark":{"type":"text","font":"Liberation Sans","fontSize":12,"color":"black"},"encoding":{"x":{"datum":68},"y":{"datum":0.962},"text":{"field":"gene"}}},
{"data":{"name":"info"},"transform":[{"filter":"datum.gene == 'COL1A2'"}],"mark":{"type":"text","fontSize":7,"align":"right","color":"#222"},"encoding":{"x":{"datum":154},"y":{"datum":0.99},"text":{"field":"hr"}}},
{"data":{"name":"info"},"transform":[{"filter":"datum.gene == 'COL1A2'"}],"mark":{"type":"text","fontSize":7,"align":"right","color":"#222"},"encoding":{"x":{"datum":154},"y":{"datum":0.936},"text":{"field":"lp"}}}
]},
{"width":212,"height":16,"view":{"stroke":null},"title":"Number at risk","data":{"name":"risk"},"transform":[{"filter":"datum.gene == 'COL1A2'"}],"encoding":{"x":{"field":"t","type":"quantitative","scale":{"domain":[-1,158],"nice":false,"zero":false},"axis":null},"y":{"field":"grp","type":"nominal","scale":{"domain":["low","high"]},"axis":{"title":null,"ticks":false,"tickSize":0,"domain":false,"labelPadding":10,"labelColor":{"condition":{"test":"datum.value == 'high'","value":"red"},"value":"black"}}}},"layer":[
{"transform":[{"filter":"datum.grp == 'low'"}],"mark":{"type":"text","fontSize":7,"color":"black"},"encoding":{"text":{"field":"n"}}},
{"transform":[{"filter":"datum.grp == 'high'"}],"mark":{"type":"text","fontSize":7,"color":"red"},"encoding":{"text":{"field":"n"}}}
]}
]},
{"spacing":2,"resolve":{"scale":{"color":"independent"},"legend":{"color":"independent"}},"vconcat":[
{"width":212,"height":176,"layer":[
{"data":{"name":"FN1"},"mark":{"type":"line","strokeWidth":1},"encoding":{"x":{"field":"t","type":"quantitative","scale":{"domain":[-1,158],"nice":false,"zero":false},"axis":{"values":[0,50,100,150],"tickCount":6,"title":"Time (months)","titlePadding":6,"labelOverlap":false}},"y":{"field":"p","type":"quantitative","scale":{"domain":[-0.04,1.04],"nice":false,"zero":false},"axis":{"values":[0,0.2,0.4,0.6,0.8,1],"tickCount":10,"format":".1f","title":"Probability","labelAngle":-90,"labelAlign":"center","labelBaseline":"bottom","titlePadding":8,"labelOverlap":false}},"color":{"field":"grp","type":"nominal","scale":{"domain":["low","high"],"range":["black","red"]},"legend":{"title":"Expression"}},"order":{"value":null}}},
{"data":{"name":"FN1"},"transform":[{"filter":"datum.cens == 1"}],"mark":{"type":"point","shape":"M-1,0H1M0,-1V1","filled":false,"size":25,"strokeWidth":1,"opacity":1},"encoding":{"x":{"field":"t","type":"quantitative"},"y":{"field":"p","type":"quantitative"},"color":{"field":"grp","type":"nominal","legend":{"title":"Expression"}}}},
{"data":{"name":"info"},"transform":[{"filter":"datum.gene == 'FN1'"}],"mark":{"type":"text","font":"Liberation Sans","fontSize":12,"color":"black"},"encoding":{"x":{"datum":68},"y":{"datum":0.962},"text":{"field":"gene"}}},
{"data":{"name":"info"},"transform":[{"filter":"datum.gene == 'FN1'"}],"mark":{"type":"text","fontSize":7,"align":"right","color":"#222"},"encoding":{"x":{"datum":154},"y":{"datum":0.99},"text":{"field":"hr"}}},
{"data":{"name":"info"},"transform":[{"filter":"datum.gene == 'FN1'"}],"mark":{"type":"text","fontSize":7,"align":"right","color":"#222"},"encoding":{"x":{"datum":154},"y":{"datum":0.936},"text":{"field":"lp"}}}
]},
{"width":212,"height":16,"view":{"stroke":null},"title":"Number at risk","data":{"name":"risk"},"transform":[{"filter":"datum.gene == 'FN1'"}],"encoding":{"x":{"field":"t","type":"quantitative","scale":{"domain":[-1,158],"nice":false,"zero":false},"axis":null},"y":{"field":"grp","type":"nominal","scale":{"domain":["low","high"]},"axis":{"title":null,"ticks":false,"tickSize":0,"domain":false,"labelPadding":10,"labelColor":{"condition":{"test":"datum.value == 'high'","value":"red"},"value":"black"}}}},"layer":[
{"transform":[{"filter":"datum.grp == 'low'"}],"mark":{"type":"text","fontSize":7,"color":"black"},"encoding":{"text":{"field":"n"}}},
{"transform":[{"filter":"datum.grp == 'high'"}],"mark":{"type":"text","fontSize":7,"color":"red"},"encoding":{"text":{"field":"n"}}}
]}
]}
]},
{"spacing": 14, "resolve": {"scale": {"color": "independent"}, "legend": {"color": "independent"}}, "hconcat": [
{"spacing":2,"resolve":{"scale":{"color":"independent"},"legend":{"color":"independent"}},"vconcat":[
{"width":212,"height":176,"layer":[
{"data":{"name":"COL5A2"},"mark":{"type":"line","strokeWidth":1},"encoding":{"x":{"field":"t","type":"quantitative","scale":{"domain":[-1,158],"nice":false,"zero":false},"axis":{"values":[0,50,100,150],"tickCount":6,"title":"Time (months)","titlePadding":6,"labelOverlap":false}},"y":{"field":"p","type":"quantitative","scale":{"domain":[-0.04,1.04],"nice":false,"zero":false},"axis":{"values":[0,0.2,0.4,0.6,0.8,1],"tickCount":10,"format":".1f","title":"Probability","labelAngle":-90,"labelAlign":"center","labelBaseline":"bottom","titlePadding":8,"labelOverlap":false}},"color":{"field":"grp","type":"nominal","scale":{"domain":["low","high"],"range":["black","red"]},"legend":{"title":"Expression"}},"order":{"value":null}}},
{"data":{"name":"COL5A2"},"transform":[{"filter":"datum.cens == 1"}],"mark":{"type":"point","shape":"M-1,0H1M0,-1V1","filled":false,"size":25,"strokeWidth":1,"opacity":1},"encoding":{"x":{"field":"t","type":"quantitative"},"y":{"field":"p","type":"quantitative"},"color":{"field":"grp","type":"nominal","legend":{"title":"Expression"}}}},
{"data":{"name":"info"},"transform":[{"filter":"datum.gene == 'COL5A2'"}],"mark":{"type":"text","font":"Liberation Sans","fontSize":12,"color":"black"},"encoding":{"x":{"datum":68},"y":{"datum":0.962},"text":{"field":"gene"}}},
{"data":{"name":"info"},"transform":[{"filter":"datum.gene == 'COL5A2'"}],"mark":{"type":"text","fontSize":7,"align":"right","color":"#222"},"encoding":{"x":{"datum":154},"y":{"datum":0.99},"text":{"field":"hr"}}},
{"data":{"name":"info"},"transform":[{"filter":"datum.gene == 'COL5A2'"}],"mark":{"type":"text","fontSize":7,"align":"right","color":"#222"},"encoding":{"x":{"datum":154},"y":{"datum":0.936},"text":{"field":"lp"}}}
]},
{"width":212,"height":16,"view":{"stroke":null},"title":"Number at risk","data":{"name":"risk"},"transform":[{"filter":"datum.gene == 'COL5A2'"}],"encoding":{"x":{"field":"t","type":"quantitative","scale":{"domain":[-1,158],"nice":false,"zero":false},"axis":null},"y":{"field":"grp","type":"nominal","scale":{"domain":["low","high"]},"axis":{"title":null,"ticks":false,"tickSize":0,"domain":false,"labelPadding":10,"labelColor":{"condition":{"test":"datum.value == 'high'","value":"red"},"value":"black"}}}},"layer":[
{"transform":[{"filter":"datum.grp == 'low'"}],"mark":{"type":"text","fontSize":7,"color":"black"},"encoding":{"text":{"field":"n"}}},
{"transform":[{"filter":"datum.grp == 'high'"}],"mark":{"type":"text","fontSize":7,"color":"red"},"encoding":{"text":{"field":"n"}}}
]}
]},
{"spacing":2,"resolve":{"scale":{"color":"independent"},"legend":{"color":"independent"}},"vconcat":[
{"width":212,"height":176,"layer":[
{"data":{"name":"BGN"},"mark":{"type":"line","strokeWidth":1},"encoding":{"x":{"field":"t","type":"quantitative","scale":{"domain":[-1,158],"nice":false,"zero":false},"axis":{"values":[0,50,100,150],"tickCount":6,"title":"Time (months)","titlePadding":6,"labelOverlap":false}},"y":{"field":"p","type":"quantitative","scale":{"domain":[-0.04,1.04],"nice":false,"zero":false},"axis":{"values":[0,0.2,0.4,0.6,0.8,1],"tickCount":10,"format":".1f","title":"Probability","labelAngle":-90,"labelAlign":"center","labelBaseline":"bottom","titlePadding":8,"labelOverlap":false}},"color":{"field":"grp","type":"nominal","scale":{"domain":["low","high"],"range":["black","red"]},"legend":{"title":"Expression"}},"order":{"value":null}}},
{"data":{"name":"BGN"},"transform":[{"filter":"datum.cens == 1"}],"mark":{"type":"point","shape":"M-1,0H1M0,-1V1","filled":false,"size":25,"strokeWidth":1,"opacity":1},"encoding":{"x":{"field":"t","type":"quantitative"},"y":{"field":"p","type":"quantitative"},"color":{"field":"grp","type":"nominal","legend":{"title":"Expression"}}}},
{"data":{"name":"info"},"transform":[{"filter":"datum.gene == 'BGN'"}],"mark":{"type":"text","font":"Liberation Sans","fontSize":12,"color":"black"},"encoding":{"x":{"datum":68},"y":{"datum":0.962},"text":{"field":"gene"}}},
{"data":{"name":"info"},"transform":[{"filter":"datum.gene == 'BGN'"}],"mark":{"type":"text","fontSize":7,"align":"right","color":"#222"},"encoding":{"x":{"datum":154},"y":{"datum":0.99},"text":{"field":"hr"}}},
{"data":{"name":"info"},"transform":[{"filter":"datum.gene == 'BGN'"}],"mark":{"type":"text","fontSize":7,"align":"right","color":"#222"},"encoding":{"x":{"datum":154},"y":{"datum":0.936},"text":{"field":"lp"}}}
]},
{"width":212,"height":16,"view":{"stroke":null},"title":"Number at risk","data":{"name":"risk"},"transform":[{"filter":"datum.gene == 'BGN'"}],"encoding":{"x":{"field":"t","type":"quantitative","scale":{"domain":[-1,158],"nice":false,"zero":false},"axis":null},"y":{"field":"grp","type":"nominal","scale":{"domain":["low","high"]},"axis":{"title":null,"ticks":false,"tickSize":0,"domain":false,"labelPadding":10,"labelColor":{"condition":{"test":"datum.value == 'high'","value":"red"},"value":"black"}}}},"layer":[
{"transform":[{"filter":"datum.grp == 'low'"}],"mark":{"type":"text","fontSize":7,"color":"black"},"encoding":{"text":{"field":"n"}}},
{"transform":[{"filter":"datum.grp == 'high'"}],"mark":{"type":"text","fontSize":7,"color":"red"},"encoding":{"text":{"field":"n"}}}
]}
]},
{"spacing":2,"resolve":{"scale":{"color":"independent"},"legend":{"color":"independent"}},"vconcat":[
{"width":212,"height":176,"layer":[
{"data":{"name":"COL6A3"},"mark":{"type":"line","strokeWidth":1},"encoding":{"x":{"field":"t","type":"quantitative","scale":{"domain":[-1,158],"nice":false,"zero":false},"axis":{"values":[0,50,100,150],"tickCount":6,"title":"Time (months)","titlePadding":6,"labelOverlap":false}},"y":{"field":"p","type":"quantitative","scale":{"domain":[-0.04,1.04],"nice":false,"zero":false},"axis":{"values":[0,0.2,0.4,0.6,0.8,1],"tickCount":10,"format":".1f","title":"Probability","labelAngle":-90,"labelAlign":"center","labelBaseline":"bottom","titlePadding":8,"labelOverlap":false}},"color":{"field":"grp","type":"nominal","scale":{"domain":["low","high"],"range":["black","red"]},"legend":{"title":"Expression"}},"order":{"value":null}}},
{"data":{"name":"COL6A3"},"transform":[{"filter":"datum.cens == 1"}],"mark":{"type":"point","shape":"M-1,0H1M0,-1V1","filled":false,"size":25,"strokeWidth":1,"opacity":1},"encoding":{"x":{"field":"t","type":"quantitative"},"y":{"field":"p","type":"quantitative"},"color":{"field":"grp","type":"nominal","legend":{"title":"Expression"}}}},
{"data":{"name":"info"},"transform":[{"filter":"datum.gene == 'COL6A3'"}],"mark":{"type":"text","font":"Liberation Sans","fontSize":12,"color":"black"},"encoding":{"x":{"datum":68},"y":{"datum":0.962},"text":{"field":"gene"}}},
{"data":{"name":"info"},"transform":[{"filter":"datum.gene == 'COL6A3'"}],"mark":{"type":"text","fontSize":7,"align":"right","color":"#222"},"encoding":{"x":{"datum":154},"y":{"datum":0.99},"text":{"field":"hr"}}},
{"data":{"name":"info"},"transform":[{"filter":"datum.gene == 'COL6A3'"}],"mark":{"type":"text","fontSize":7,"align":"right","color":"#222"},"encoding":{"x":{"datum":154},"y":{"datum":0.936},"text":{"field":"lp"}}}
]},
{"width":212,"height":16,"view":{"stroke":null},"title":"Number at risk","data":{"name":"risk"},"transform":[{"filter":"datum.gene == 'COL6A3'"}],"encoding":{"x":{"field":"t","type":"quantitative","scale":{"domain":[-1,158],"nice":false,"zero":false},"axis":null},"y":{"field":"grp","type":"nominal","scale":{"domain":["low","high"]},"axis":{"title":null,"ticks":false,"tickSize":0,"domain":false,"labelPadding":10,"labelColor":{"condition":{"test":"datum.value == 'high'","value":"red"},"value":"black"}}}},"layer":[
{"transform":[{"filter":"datum.grp == 'low'"}],"mark":{"type":"text","fontSize":7,"color":"black"},"encoding":{"text":{"field":"n"}}},
{"transform":[{"filter":"datum.grp == 'high'"}],"mark":{"type":"text","fontSize":7,"color":"red"},"encoding":{"text":{"field":"n"}}}
]}
]}
]},
{"spacing": 14, "resolve": {"scale": {"color": "independent"}, "legend": {"color": "independent"}}, "hconcat": [
{"spacing":2,"resolve":{"scale":{"color":"independent"},"legend":{"color":"independent"}},"vconcat":[
{"width":212,"height":176,"layer":[
{"data":{"name":"COL12A1"},"mark":{"type":"line","strokeWidth":1},"encoding":{"x":{"field":"t","type":"quantitative","scale":{"domain":[-1,158],"nice":false,"zero":false},"axis":{"values":[0,50,100,150],"tickCount":6,"title":"Time (months)","titlePadding":6,"labelOverlap":false}},"y":{"field":"p","type":"quantitative","scale":{"domain":[-0.04,1.04],"nice":false,"zero":false},"axis":{"values":[0,0.2,0.4,0.6,0.8,1],"tickCount":10,"format":".1f","title":"Probability","labelAngle":-90,"labelAlign":"center","labelBaseline":"bottom","titlePadding":8,"labelOverlap":false}},"color":{"field":"grp","type":"nominal","scale":{"domain":["low","high"],"range":["black","red"]},"legend":{"title":"Expression"}},"order":{"value":null}}},
{"data":{"name":"COL12A1"},"transform":[{"filter":"datum.cens == 1"}],"mark":{"type":"point","shape":"M-1,0H1M0,-1V1","filled":false,"size":25,"strokeWidth":1,"opacity":1},"encoding":{"x":{"field":"t","type":"quantitative"},"y":{"field":"p","type":"quantitative"},"color":{"field":"grp","type":"nominal","legend":{"title":"Expression"}}}},
{"data":{"name":"info"},"transform":[{"filter":"datum.gene == 'COL12A1'"}],"mark":{"type":"text","font":"Liberation Sans","fontSize":12,"color":"black"},"encoding":{"x":{"datum":68},"y":{"datum":0.962},"text":{"field":"gene"}}},
{"data":{"name":"info"},"transform":[{"filter":"datum.gene == 'COL12A1'"}],"mark":{"type":"text","fontSize":7,"align":"right","color":"#222"},"encoding":{"x":{"datum":154},"y":{"datum":0.99},"text":{"field":"hr"}}},
{"data":{"name":"info"},"transform":[{"filter":"datum.gene == 'COL12A1'"}],"mark":{"type":"text","fontSize":7,"align":"right","color":"#222"},"encoding":{"x":{"datum":154},"y":{"datum":0.936},"text":{"field":"lp"}}}
]},
{"width":212,"height":16,"view":{"stroke":null},"title":"Number at risk","data":{"name":"risk"},"transform":[{"filter":"datum.gene == 'COL12A1'"}],"encoding":{"x":{"field":"t","type":"quantitative","scale":{"domain":[-1,158],"nice":false,"zero":false},"axis":null},"y":{"field":"grp","type":"nominal","scale":{"domain":["low","high"]},"axis":{"title":null,"ticks":false,"tickSize":0,"domain":false,"labelPadding":10,"labelColor":{"condition":{"test":"datum.value == 'high'","value":"red"},"value":"black"}}}},"layer":[
{"transform":[{"filter":"datum.grp == 'low'"}],"mark":{"type":"text","fontSize":7,"color":"black"},"encoding":{"text":{"field":"n"}}},
{"transform":[{"filter":"datum.grp == 'high'"}],"mark":{"type":"text","fontSize":7,"color":"red"},"encoding":{"text":{"field":"n"}}}
]}
]},
{"spacing":2,"resolve":{"scale":{"color":"independent"},"legend":{"color":"independent"}},"vconcat":[
{"width":212,"height":176,"layer":[
{"data":{"name":"THBS2"},"mark":{"type":"line","strokeWidth":1},"encoding":{"x":{"field":"t","type":"quantitative","scale":{"domain":[-1,158],"nice":false,"zero":false},"axis":{"values":[0,50,100,150],"tickCount":6,"title":"Time (months)","titlePadding":6,"labelOverlap":false}},"y":{"field":"p","type":"quantitative","scale":{"domain":[-0.04,1.04],"nice":false,"zero":false},"axis":{"values":[0,0.2,0.4,0.6,0.8,1],"tickCount":10,"format":".1f","title":"Probability","labelAngle":-90,"labelAlign":"center","labelBaseline":"bottom","titlePadding":8,"labelOverlap":false}},"color":{"field":"grp","type":"nominal","scale":{"domain":["low","high"],"range":["black","red"]},"legend":{"title":"Expression"}},"order":{"value":null}}},
{"data":{"name":"THBS2"},"transform":[{"filter":"datum.cens == 1"}],"mark":{"type":"point","shape":"M-1,0H1M0,-1V1","filled":false,"size":25,"strokeWidth":1,"opacity":1},"encoding":{"x":{"field":"t","type":"quantitative"},"y":{"field":"p","type":"quantitative"},"color":{"field":"grp","type":"nominal","legend":{"title":"Expression"}}}},
{"data":{"name":"info"},"transform":[{"filter":"datum.gene == 'THBS2'"}],"mark":{"type":"text","font":"Liberation Sans","fontSize":12,"color":"black"},"encoding":{"x":{"datum":68},"y":{"datum":0.962},"text":{"field":"gene"}}},
{"data":{"name":"info"},"transform":[{"filter":"datum.gene == 'THBS2'"}],"mark":{"type":"text","fontSize":7,"align":"right","color":"#222"},"encoding":{"x":{"datum":154},"y":{"datum":0.99},"text":{"field":"hr"}}},
{"data":{"name":"info"},"transform":[{"filter":"datum.gene == 'THBS2'"}],"mark":{"type":"text","fontSize":7,"align":"right","color":"#222"},"encoding":{"x":{"datum":154},"y":{"datum":0.936},"text":{"field":"lp"}}}
]},
{"width":212,"height":16,"view":{"stroke":null},"title":"Number at risk","data":{"name":"risk"},"transform":[{"filter":"datum.gene == 'THBS2'"}],"encoding":{"x":{"field":"t","type":"quantitative","scale":{"domain":[-1,158],"nice":false,"zero":false},"axis":null},"y":{"field":"grp","type":"nominal","scale":{"domain":["low","high"]},"axis":{"title":null,"ticks":false,"tickSize":0,"domain":false,"labelPadding":10,"labelColor":{"condition":{"test":"datum.value == 'high'","value":"red"},"value":"black"}}}},"layer":[
{"transform":[{"filter":"datum.grp == 'low'"}],"mark":{"type":"text","fontSize":7,"color":"black"},"encoding":{"text":{"field":"n"}}},
{"transform":[{"filter":"datum.grp == 'high'"}],"mark":{"type":"text","fontSize":7,"color":"red"},"encoding":{"text":{"field":"n"}}}
]}
]},
{"spacing":2,"resolve":{"scale":{"color":"independent"},"legend":{"color":"independent"}},"vconcat":[
{"width":212,"height":176,"layer":[
{"data":{"name":"CDH11"},"mark":{"type":"line","strokeWidth":1},"encoding":{"x":{"field":"t","type":"quantitative","scale":{"domain":[-1,158],"nice":false,"zero":false},"axis":{"values":[0,50,100,150],"tickCount":6,"title":"Time (months)","titlePadding":6,"labelOverlap":false}},"y":{"field":"p","type":"quantitative","scale":{"domain":[-0.04,1.04],"nice":false,"zero":false},"axis":{"values":[0,0.2,0.4,0.6,0.8,1],"tickCount":10,"format":".1f","title":"Probability","labelAngle":-90,"labelAlign":"center","labelBaseline":"bottom","titlePadding":8,"labelOverlap":false}},"color":{"field":"grp","type":"nominal","scale":{"domain":["low","high"],"range":["black","red"]},"legend":{"title":"Expression"}},"order":{"value":null}}},
{"data":{"name":"CDH11"},"transform":[{"filter":"datum.cens == 1"}],"mark":{"type":"point","shape":"M-1,0H1M0,-1V1","filled":false,"size":25,"strokeWidth":1,"opacity":1},"encoding":{"x":{"field":"t","type":"quantitative"},"y":{"field":"p","type":"quantitative"},"color":{"field":"grp","type":"nominal","legend":{"title":"Expression"}}}},
{"data":{"name":"info"},"transform":[{"filter":"datum.gene == 'CDH11'"}],"mark":{"type":"text","font":"Liberation Sans","fontSize":12,"color":"black"},"encoding":{"x":{"datum":68},"y":{"datum":0.962},"text":{"field":"gene"}}},
{"data":{"name":"info"},"transform":[{"filter":"datum.gene == 'CDH11'"}],"mark":{"type":"text","fontSize":7,"align":"right","color":"#222"},"encoding":{"x":{"datum":154},"y":{"datum":0.99},"text":{"field":"hr"}}},
{"data":{"name":"info"},"transform":[{"filter":"datum.gene == 'CDH11'"}],"mark":{"type":"text","fontSize":7,"align":"right","color":"#222"},"encoding":{"x":{"datum":154},"y":{"datum":0.936},"text":{"field":"lp"}}}
]},
{"width":212,"height":16,"view":{"stroke":null},"title":"Number at risk","data":{"name":"risk"},"transform":[{"filter":"datum.gene == 'CDH11'"}],"encoding":{"x":{"field":"t","type":"quantitative","scale":{"domain":[-1,158],"nice":false,"zero":false},"axis":null},"y":{"field":"grp","type":"nominal","scale":{"domain":["low","high"]},"axis":{"title":null,"ticks":false,"tickSize":0,"domain":false,"labelPadding":10,"labelColor":{"condition":{"test":"datum.value == 'high'","value":"red"},"value":"black"}}}},"layer":[
{"transform":[{"filter":"datum.grp == 'low'"}],"mark":{"type":"text","fontSize":7,"color":"black"},"encoding":{"text":{"field":"n"}}},
{"transform":[{"filter":"datum.grp == 'high'"}],"mark":{"type":"text","fontSize":7,"color":"red"},"encoding":{"text":{"field":"n"}}}
]}
]}
]}
]},
{"spacing":2,"resolve":{"scale":{"color":"independent"},"legend":{"color":"independent"}},"vconcat":[
{"width":226,"height":186,"layer":[
{"data":{"name":"SERPINH1"},"mark":{"type":"line","strokeWidth":1},"encoding":{"x":{"field":"t","type":"quantitative","scale":{"domain":[-1,158],"nice":false,"zero":false},"axis":{"values":[0,50,100,150],"tickCount":6,"title":"Time (months)","titlePadding":6,"labelOverlap":false}},"y":{"field":"p","type":"quantitative","scale":{"domain":[-0.04,1.04],"nice":false,"zero":false},"axis":{"values":[0,0.2,0.4,0.6,0.8,1],"tickCount":10,"format":".1f","title":"Probability","labelAngle":-90,"labelAlign":"center","labelBaseline":"bottom","titlePadding":8,"labelOverlap":false}},"color":{"field":"grp","type":"nominal","scale":{"domain":["low","high"],"range":["black","red"]},"legend":{"title":"Expression"}},"order":{"value":null}}},
{"data":{"name":"SERPINH1"},"transform":[{"filter":"datum.cens == 1"}],"mark":{"type":"point","shape":"M-1,0H1M0,-1V1","filled":false,"size":25,"strokeWidth":1,"opacity":1},"encoding":{"x":{"field":"t","type":"quantitative"},"y":{"field":"p","type":"quantitative"},"color":{"field":"grp","type":"nominal","legend":{"title":"Expression"}}}},
{"data":{"name":"info"},"transform":[{"filter":"datum.gene == 'SERPINH1'"}],"mark":{"type":"text","font":"Liberation Sans","fontSize":12,"color":"black"},"encoding":{"x":{"datum":68},"y":{"datum":0.962},"text":{"field":"gene"}}},
{"data":{"name":"info"},"transform":[{"filter":"datum.gene == 'SERPINH1'"}],"mark":{"type":"text","fontSize":7,"align":"right","color":"#222"},"encoding":{"x":{"datum":154},"y":{"datum":0.99},"text":{"field":"hr"}}},
{"data":{"name":"info"},"transform":[{"filter":"datum.gene == 'SERPINH1'"}],"mark":{"type":"text","fontSize":7,"align":"right","color":"#222"},"encoding":{"x":{"datum":154},"y":{"datum":0.936},"text":{"field":"lp"}}}
]},
{"width":226,"height":16,"view":{"stroke":null},"title":"Number at risk","data":{"name":"risk"},"transform":[{"filter":"datum.gene == 'SERPINH1'"}],"encoding":{"x":{"field":"t","type":"quantitative","scale":{"domain":[-1,158],"nice":false,"zero":false},"axis":null},"y":{"field":"grp","type":"nominal","scale":{"domain":["low","high"]},"axis":{"title":null,"ticks":false,"tickSize":0,"domain":false,"labelPadding":10,"labelColor":{"condition":{"test":"datum.value == 'high'","value":"red"},"value":"black"}}}},"layer":[
{"transform":[{"filter":"datum.grp == 'low'"}],"mark":{"type":"text","fontSize":7,"color":"black"},"encoding":{"text":{"field":"n"}}},
{"transform":[{"filter":"datum.grp == 'high'"}],"mark":{"type":"text","fontSize":7,"color":"red"},"encoding":{"text":{"field":"n"}}}
]}
]}
]
}
